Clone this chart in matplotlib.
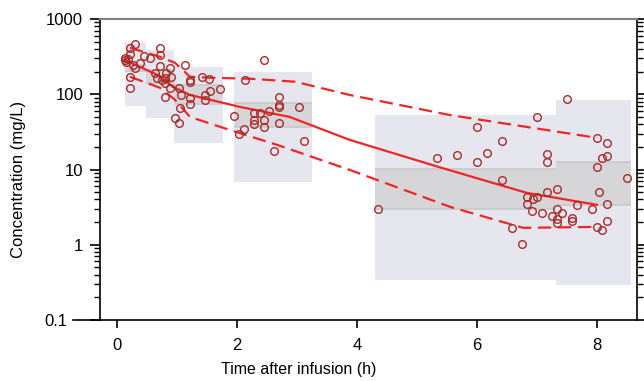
import numpy as np
import matplotlib
matplotlib.use('Agg')
from matplotlib import pyplot as plt
from matplotlib.patches import Rectangle
from matplotlib.transforms import ScaledTranslation

plt.rcParams['font.family'] = ['Liberation Sans', 'DejaVu Sans']

# Bins of the VPC: time edges, 90% PI of the 5th/95th percentiles (outer) and of the median (inner)
bin_lo = [0.13, 0.48, 0.95, 1.95, 4.30, 7.32]
bin_hi = [0.48, 0.95, 1.77, 3.25, 7.32, 8.57]
outer_lo = [70.3, 48.7, 22.7, 6.87, 0.343, 0.294]
outer_hi = [483, 390, 232, 199, 53.4, 84.5]
med_lo = [205, 142, 74.8, 37, 3.0, 3.4]
med_hi = [247, 212, 134, 77, 10.2, 12.7]

# Observed percentiles
med_t = [0.13, 0.67, 0.93, 1.22, 1.77, 2.05, 2.88, 3.88, 5.35, 6.83, 8.0]
med_c = [287, 182, 126, 98, 77, 68, 50, 24.8, 10.9, 4.9, 3.4]
p95_t = [0.22, 0.72, 0.97, 1.22, 1.55, 2.22, 2.97, 3.88, 5.55, 8.0]
p95_c = [415, 315, 262, 171, 166, 161, 147, 98, 53, 26.4]
p05_t = [0.22, 0.72, 0.97, 1.22, 1.77, 2.67, 3.88, 5.55, 6.77, 8.0]
p05_c = [171, 122, 84.5, 50, 35.9, 21.3, 9.9, 3.2, 1.68, 1.73]

# Observed concentrations
obs_t = [0.13, 0.13, 0.15, 0.18, 0.22, 0.30, 0.22, 0.27, 0.30, 0.38, 0.22, 0.22, 0.45,
         0.55, 0.72, 0.72, 0.72, 0.88, 0.63, 0.67, 0.80, 0.82, 0.90, 0.80, 0.88, 0.80, 0.75,
         1.13, 1.22, 1.22, 1.42, 1.53, 1.03, 1.07, 1.22, 1.22, 1.47, 1.47, 1.55, 1.72, 1.05, 0.97, 1.03,
         1.95, 2.03, 2.12, 2.13, 2.45, 2.70, 2.70, 2.70, 3.03, 2.28, 2.38, 2.53, 2.28, 2.28, 2.45, 2.45,
         2.70, 3.12, 2.62,
         4.35, 5.33, 5.67, 6.0, 6.0, 6.17, 6.42, 6.42, 7.0, 6.58, 6.75, 7.17, 7.17, 6.83, 6.93, 7.0,
         6.83, 6.92, 7.08, 7.17,
         7.33, 7.33, 7.42, 7.25, 7.33, 7.33, 7.58, 7.58, 7.67, 7.5, 8.0, 8.17, 8.08, 8.17, 8.0, 8.5,
         7.92, 8.03, 8.17, 8.0, 8.08, 8.17]
obs_c = [305, 287, 270, 296, 415, 469, 345, 247, 225, 262, 171, 122, 325,
         305, 415, 335, 239, 225, 193, 166, 166, 193, 171, 142, 122, 92.7, 156,
         247, 156, 147, 171, 161, 122, 98.5, 89.8, 74.8, 98.5, 84.5, 111, 118, 66.2, 48.7, 41.8,
         51.8, 29.9, 34.8, 156, 287, 92.7, 72.5, 68.2, 68.2, 56.8, 56.8, 60.4, 45.8, 40.5, 45.8, 37.0,
         41.8, 24.1, 17.7,
         3.01, 14.3, 15.7, 37.0, 12.7, 16.7, 24.1, 7.31, 50.2, 1.68, 1.03, 16.2, 12.7, 4.34, 4.09, 4.34,
         3.51, 2.83, 2.66, 5.06,
         5.55, 3.01, 2.66, 2.43, 2.22, 1.96, 2.28, 2.08, 3.40, 87.1, 26.4, 22.7, 14.3, 15.2, 10.9, 7.77,
         3.01, 5.06, 3.51, 1.73, 1.58, 2.08]

fig = plt.figure(figsize=(6.44, 3.81), dpi=100)
ax = fig.add_axes([0.155, 0.160, 0.834, 0.790])

for i in range(len(bin_lo)):
    w = bin_hi[i] - bin_lo[i]
    ax.add_patch(Rectangle((bin_lo[i], outer_lo[i]), w, outer_hi[i] - outer_lo[i],
                           facecolor='#e6e7ee', edgecolor='none', zorder=1))
    ax.add_patch(Rectangle((bin_lo[i], med_lo[i]), w, med_hi[i] - med_lo[i],
                           facecolor='#d6d6d8', edgecolor='none', zorder=2))
    ax.hlines([med_lo[i], med_hi[i]], bin_lo[i], bin_hi[i], color='#c8c8cc', lw=1.2, zorder=2)

ax.plot(med_t, med_c, color='#f02525', lw=1.6, zorder=3)
ax.plot(p95_t, p95_c, color='#f02525', lw=1.6, ls=(0, (6, 3)), zorder=3)
ax.plot(p05_t, p05_c, color='#f02525', lw=1.6, ls=(0, (6, 3)), zorder=3)

ax.plot(obs_t, obs_c, 'o', mfc='none', mec='#a82a2a', ms=5.5, mew=1.0, zorder=4)

ax.set_yscale('log')
ax.set_ylim(0.1, 1000)
ax.set_xlim(-0.283, 8.667)
ax.set_xticks([0, 2, 4, 6, 8])
ax.set_yticks([0.1, 1, 10, 100, 1000])
ax.set_yticklabels(['0.1', '1', '10', '100', '1000'])

ax.tick_params(axis='x', which='major', labelsize=12, length=6, width=1.2, pad=7)
ax.tick_params(axis='y', which='major', labelsize=12, length=7, width=1.2, pad=5)
ax.tick_params(axis='y', which='both', right=True)
ax.tick_params(axis='y', which='minor', length=4.5, width=1.0)

# the 0.1 label sits further left, past the extended bottom line
lab = ax.get_yticklabels()[0]
lab.set_transform(lab.get_transform() + ScaledTranslation(-0.16, 0, fig.dpi_scale_trans))

ax.spines['top'].set_color('#808080')
ax.spines['top'].set_linewidth(1.5)
for s in ['left', 'right', 'bottom']:
    ax.spines[s].set_linewidth(1.2)

# bottom axis line runs a bit past the left spine
ax.plot([-0.05, 0], [0, 0], transform=ax.transAxes, color='black', lw=1.2, clip_on=False)

ax.set_xlabel('Time after infusion (h)', fontsize=11.5)
ax.set_ylabel('Concentration (mg/L)', fontsize=12)
ax.xaxis.set_label_coords(0.37, -0.14)
ax.yaxis.set_label_coords(-0.138, 0.468)

fig.savefig('out.png', dpi=100)
